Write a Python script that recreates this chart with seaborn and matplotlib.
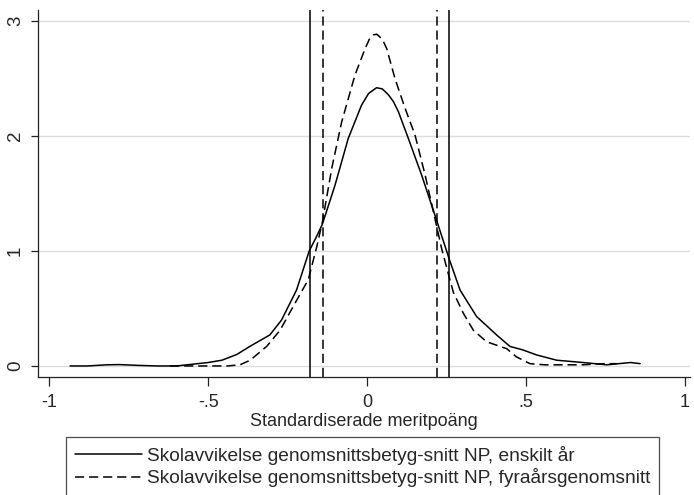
import matplotlib
matplotlib.use("Agg")
import matplotlib.pyplot as plt
import numpy as np
import pandas as pd
import seaborn as sns

# kernel density, single-year school deviation
single_x = [-0.935, -0.88, -0.82, -0.78, -0.72, -0.66, -0.60, -0.55, -0.50, -0.457,
            -0.41, -0.369, -0.306, -0.269, -0.222, -0.182, -0.160, -0.141, -0.101, -0.059,
            -0.017, 0.005, 0.030, 0.048, 0.067, 0.083, 0.099, 0.130, 0.172, 0.214,
            0.240, 0.260, 0.293, 0.345, 0.408, 0.450, 0.490, 0.534, 0.597, 0.680,
            0.755, 0.830, 0.860]
single_y = [0.00, 0.00, 0.01, 0.012, 0.005, 0.00, 0.00, 0.015, 0.03, 0.05,
            0.10, 0.17, 0.27, 0.40, 0.66, 1.00, 1.12, 1.23, 1.57, 1.98,
            2.27, 2.37, 2.42, 2.41, 2.36, 2.30, 2.21, 1.98, 1.66, 1.31,
            1.09, 0.92, 0.66, 0.43, 0.27, 0.17, 0.14, 0.096, 0.05, 0.03,
            0.01, 0.03, 0.02]

# kernel density, four-year average
four_x = [-0.62, -0.55, -0.50, -0.44, -0.40, -0.368, -0.316, -0.274, -0.232, -0.185,
          -0.158, -0.140, -0.111, -0.080, -0.038, -0.006, 0.007, 0.020, 0.031, 0.041,
          0.052, 0.062, 0.088, 0.120, 0.151, 0.183, 0.214, 0.235, 0.261, 0.272,
          0.303, 0.335, 0.377, 0.440, 0.470, 0.513, 0.560, 0.618, 0.680, 0.745,
          0.786]
four_y = [0.00, 0.00, 0.00, 0.00, 0.01, 0.05, 0.17, 0.31, 0.52, 0.75,
          1.04, 1.26, 1.72, 2.12, 2.53, 2.76, 2.84, 2.88, 2.885, 2.86,
          2.82, 2.76, 2.50, 2.24, 2.01, 1.66, 1.28, 1.02, 0.75, 0.64,
          0.46, 0.31, 0.21, 0.15, 0.08, 0.02, 0.01, 0.01, 0.01, 0.02,
          0.02]

# vertical reference lines
single_cuts = [-0.179, 0.258]
four_cuts = [-0.138, 0.220]

label_single = 'Skolavvikelse genomsnittsbetyg-snitt NP, enskilt år'
label_four = 'Skolavvikelse genomsnittsbetyg-snitt NP, fyraårsgenomsnitt'

x_ticks = [-1, -0.5, 0, 0.5, 1]
x_ticklabels = ['-1', '-.5', '0', '.5', '1']
y_ticks = [0, 1, 2, 3]

sns.set_style('white')
plt.rcParams['font.family'] = ['Liberation Sans', 'DejaVu Sans']
FS = 13
FS_LEG = 13.8
DASH = (6, 3.2)
LW = 1.1

fig = plt.figure(figsize=(6.94, 4.95), dpi=100)
ax = fig.add_axes([38 / 694, 1 - 377 / 495, (690 - 38) / 694, (377 - 10) / 495])

df_single = pd.DataFrame({'x': single_x, 'y': single_y})
df_four = pd.DataFrame({'x': four_x, 'y': four_y})
sns.lineplot(data=df_single, x='x', y='y', ax=ax, color='black', lw=LW,
             label=label_single, estimator=None, sort=True)
sns.lineplot(data=df_four, x='x', y='y', ax=ax, color='black', lw=LW,
             label=label_four, estimator=None, sort=True)
ax.lines[1].set_dashes(DASH)

for c in single_cuts:
    ax.axvline(c, color='black', lw=LW)
for c in four_cuts:
    ax.axvline(c, color='black', lw=LW, dashes=DASH)

ax.set_xlim(-1.036, 1.017)
ax.set_ylim(-0.096, 3.096)
ax.set_xticks(x_ticks)
ax.set_xticklabels(x_ticklabels, fontsize=FS)
ax.set_yticks(y_ticks)
ax.set_yticklabels([str(v) for v in y_ticks], rotation=90, va='center', fontsize=FS + 0.5)
ax.yaxis.grid(True, color='#dcdcdc', lw=1.0)
ax.set_axisbelow(True)
for side in ['top', 'right']:
    ax.spines[side].set_visible(False)
for side in ['left', 'bottom']:
    ax.spines[side].set_color('#222222')
    ax.spines[side].set_linewidth(0.9)
ax.tick_params(axis='x', direction='out', length=6.5, width=0.9, color='#222222',
               pad=6, bottom=True)
ax.tick_params(axis='y', direction='out', length=5, width=0.9, color='#222222',
               pad=5, left=True)
ax.set_xlabel('Standardiserade meritpoäng', fontsize=FS, labelpad=1)
ax.set_ylabel('')

handles, labels = ax.get_legend_handles_labels()
ax.get_legend().remove()
leg = fig.legend(handles, labels, loc='upper left', bbox_to_anchor=(66 / 694, 1 - 437 / 495),
                 fontsize=FS_LEG, frameon=True, fancybox=False, edgecolor='#222222',
                 handlelength=3.5, handletextpad=0.3, labelspacing=0.2,
                 borderpad=0.45, borderaxespad=0)
leg.get_frame().set_linewidth(0.9)

fig.savefig('out.png', dpi=100)
